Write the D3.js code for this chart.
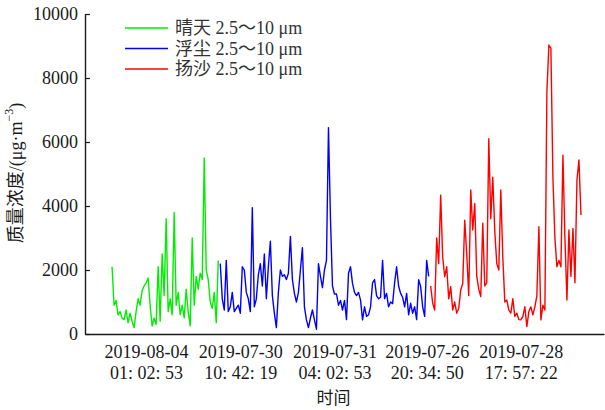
<!DOCTYPE html>
<html><head><meta charset="utf-8">
<script src="https://cdn.jsdelivr.net/npm/d3@7"></script>
<style>body{margin:0;background:#fff}svg{display:block}</style>
</head><body>
<svg id="c" width="605" height="410"></svg>
<script>
// ---- data (mass concentration, μg·m^-3, sample-indexed) ----
const sunnyValues = [2100,900,1050,600,700,500,450,750,350,650,400,200,700,1100,900,1350,1500,1600,1750,900,
  250,500,300,2100,400,2500,1200,3600,700,1100,600,3800,900,1300,600,900,500,1400,700,250,
  3000,900,1800,1400,1900,1700,5500,2000,1700,1000,800,1300,350,2300];
const dustValues = [2200,1100,750,2300,700,850,1300,700,800,900,650,2100,2000,1300,1100,700,3950,850,1100,1850,
  2200,1500,2500,1100,2100,2900,1200,650,200,1300,2000,1800,1850,1700,1900,3050,1700,1270,1000,1300,
  2000,2700,850,440,200,500,750,440,150,2200,1800,1450,2000,2300,6450,3600,1500,1250,1250,900,
  1050,750,1050,450,1900,2100,1580,1300,1200,1300,1060,440,850,550,600,850,1600,1700,1200,1100,
  1150,2300,1100,1270,850,1000,950,1600,2100,1500,1270,1150,850,1270,600,960,650,850,450,1700,
  1480,850,550,2300,1800];
const sandValues = [1500,970,750,3000,2200,4340,2400,1790,2100,1100,1480,750,1000,650,800,1375,1580,3560,2500,1200,
  4500,3250,4080,1800,1400,1170,3460,1500,1600,6100,3600,4900,3200,2200,2000,4500,2400,1000,1060,750,
  650,1100,550,650,450,440,550,850,230,700,850,600,850,1200,3350,440,900,750,7570,9030,
  8930,4900,3000,2100,2300,2100,5590,3000,1060,3250,1800,3300,1600,4810,5440,3720];
const seriesNames = ["晴天 2.5～10 μm", "浮尘 2.5～10 μm", "扬沙 2.5～10 μm"];
const seriesColors = ["#00ee00", "#0000ff", "#ff0000"];
const yTicks = [0, 2000, 4000, 6000, 8000, 10000];
const xTickIndex = [17, 64, 111, 157, 204];
const xTickDate = ["2019-08-04", "2019-07-30", "2019-07-31", "2019-07-26", "2019-07-28"];
const xTickTime = ["01: 02: 53", "10: 42: 19", "04: 02: 53", "20: 34: 50", "17: 57: 22"];

(function () {
const svg = d3.select("#c");
const FONT = "'Liberation Serif','Times New Roman','Noto Sans CJK SC',serif";
const TXT = "#1a1a1a";
const mL = 85, mR = 604, mT = 14, mB = 334;

const allSeries = [sunnyValues, dustValues, sandValues];
let offset = 0;
const series = allSeries.map((vals, i) => {
  const pts = vals.map((v, j) => ({i: offset + j, v}));
  offset += vals.length;
  return {name: seriesNames[i], color: seriesColors[i], pts};
});

// x: sample index; padded so first sample sits inside the frame
const x = d3.scaleLinear().domain([-13.5, 245.5]).range([mL, mR]);
const y = d3.scaleLinear().domain([0, 10000]).range([mB, mT]);

// lines
const line = d3.line().x(d => x(d.i)).y(d => y(d.v));
svg.append("g").selectAll("path").data(series).join("path")
  .attr("d", d => line(d.pts)).attr("fill", "none")
  .attr("stroke", d => d.color).attr("stroke-width", 1.4).attr("stroke-linejoin", "round");

// y axis
const yAxis = svg.append("g").attr("transform", `translate(${mL},0)`)
  .call(d3.axisLeft(y).tickValues(yTicks).tickFormat(d3.format("d"))
    .tickSizeInner(-5).tickSizeOuter(0).tickPadding(7));
yAxis.select(".domain").attr("stroke", TXT).attr("stroke-width", 1.4);
yAxis.selectAll(".tick line").attr("stroke", TXT).attr("stroke-width", 1.2);
yAxis.selectAll(".tick text").attr("font-family", FONT).attr("font-size", 18).attr("fill", TXT);

// x axis (no tick marks)
const xAxis = svg.append("g").attr("transform", `translate(0,${mB})`)
  .call(d3.axisBottom(x).tickValues(xTickIndex).tickSize(0).tickFormat(""));
xAxis.select(".domain").attr("stroke", TXT).attr("stroke-width", 1.4);
xAxis.selectAll(".tick").each(function(d, k) {
  const t = d3.select(this).append("text").attr("font-family", FONT).attr("font-size", 18)
    .attr("fill", TXT).attr("text-anchor", "middle");
  t.append("tspan").attr("x", 0).attr("y", 24).text(xTickDate[k]);
  t.append("tspan").attr("x", 0).attr("y", 45).text(xTickTime[k]);
});

// axis titles
svg.append("text").attr("x", (x(xTickIndex[0]) + x(xTickIndex[4])) / 2).attr("y", 404)
  .attr("text-anchor", "middle").attr("font-family", FONT).attr("font-size", 17).attr("fill", TXT).text("时间");
const yt = svg.append("text").attr("transform", "translate(16,173) rotate(-90)")
  .attr("text-anchor", "middle").attr("dominant-baseline", "central")
  .attr("font-family", FONT).attr("font-size", 18).attr("fill", TXT);
yt.append("tspan").text("质量浓度/(μg·m");
yt.append("tspan").attr("font-size", 12).attr("dy", -7).text("−3");
yt.append("tspan").attr("dy", 7).text(")");

// legend
const lg = svg.append("g").selectAll("g").data(series).join("g")
  .attr("transform", (d, k) => `translate(125,${28 + k * 20.5})`);
lg.append("line").attr("x1", 0).attr("x2", 43).attr("stroke", d => d.color).attr("stroke-width", 1.6);
lg.append("text").attr("x", 50).attr("dominant-baseline", "central")
  .attr("font-family", FONT).attr("font-size", 18).attr("fill", "#333").text(d => d.name);
})();
</script>
</body></html>
